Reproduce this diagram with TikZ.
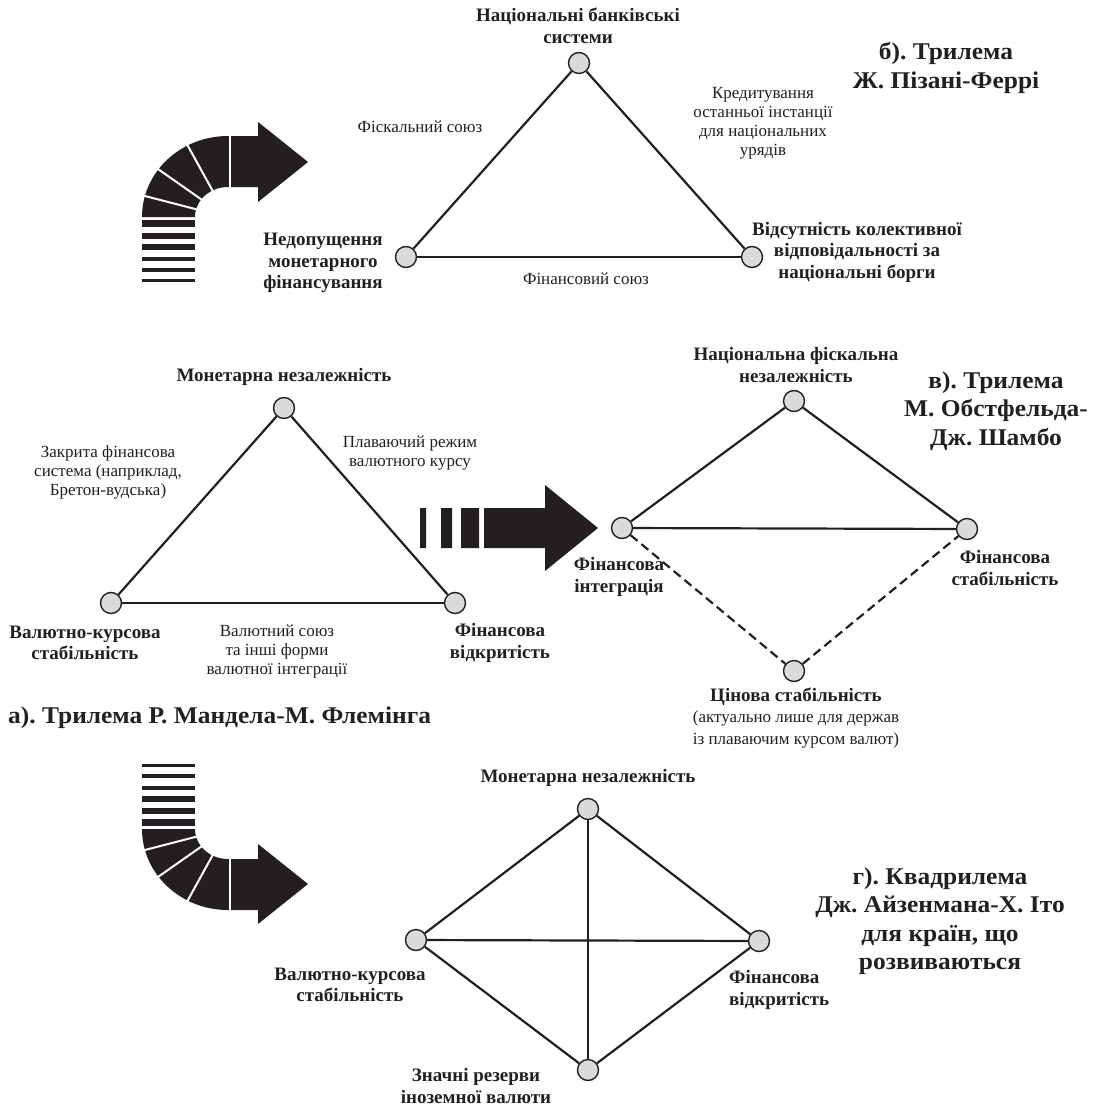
\documentclass[tikz,border=0pt]{standalone}
\usepackage{fontspec}
\setmainfont{Liberation Serif}
\newfontfamily\ttlfont[FakeStretch=1.06]{Liberation Serif}
\frenchspacing
\definecolor{ink}{HTML}{231F20}
\definecolor{knob}{HTML}{D9DADB}

% bent arrow, drawn round the centre of its bend
\newcommand{\bendarrow}{%
  \fill[ink] (-86,0) arc[start angle=180, end angle=270, x radius=86, y radius=81]
    -- (30,-81) -- (30,-95) -- (80,-55) -- (30,-15) -- (30,-30) -- (0,-30)
    arc[start angle=270, end angle=180, x radius=33, y radius=30] -- cycle;
  \foreach \a in {195,216,242}
    \draw[white, line width=2pt] (\a:31 and 28) -- (\a:89 and 84);
  \draw[white, line width=2pt] (2,-28) -- (2,-84);
  \foreach \y/\w in {6.5/7,18.5/6,30/5.2,41.5/4,53/3.5,63.5/2.5}
    \fill[ink] (-86,\y-\w/2) rectangle (-33,\y+\w/2);
}

\begin{document}
\begin{tikzpicture}[x=1pt, y=-1pt,
	vert/.style={circle, draw=ink, fill=knob, line width=1.4pt, minimum size=21pt, inner sep=0pt},
	edge/.style={draw=ink, line width=2.2pt},
	lbl/.style={font=\fontsize{19}{21.5}\selectfont\bfseries, align=center, text=ink, inner sep=0pt},
	note/.style={font=\fontsize{17}{19}\selectfont, align=center, text=ink, inner sep=0pt},
	ttl/.style={font=\ttlfont\fontsize{24}{28.5}\selectfont\bfseries, align=center, text=ink, inner sep=0pt}]
	\useasboundingbox (0,0) rectangle (1099,1108);

	% arrows
	\begin{scope}[shift={(228,217)}] \bendarrow \end{scope}
	\begin{scope}[shift={(228,829)}, yscale=-1] \bendarrow \end{scope}
	\fill[ink] (420,508) rectangle (426,548) (441,508) rectangle (452,548) (461,508) rectangle (479,548);
	\fill[ink] (484,508) -- (545,508) -- (545,485) -- (598,528) -- (545,571) -- (545,548) -- (484,548) -- cycle;

	% b) Pisani-Ferry
	\node[vert] (bank)  at (579,63)  {};
	\node[vert] (nomon) at (406,257) {};
	\node[vert] (nocol) at (752,257) {};
	\draw[edge] (nomon) -- (bank);
	\draw[edge] (bank) -- (nocol);
	\draw[edge] (nomon) -- (nocol);
	\node[lbl] (bank-t)  at (578,26)  {Національні банківські\\системи};
	\node[lbl] (nomon-t) at (323,263) {Недопущення\\монетарного\\фінансування};
	\node[lbl] (nocol-t) at (857,252) {Відсутність колективної\\відповідальності за\\національні борги};
	\node[note] (fisc) at (420,127)   {Фіскальний союз};
	\node[note] (lolr) at (763,123.5) {Кредитування\\останньої інстанції\\для національних\\урядів};
	\node[note] (finu) at (586,279)   {Фінансовий союз};
	\node[ttl] (ttl-b) at (946,68) {б). Трилема\\Ж. Пізані-Феррі};

	% a) Mundell-Fleming
	\node[vert] (mona) at (284,408) {};
	\node[vert] (kura) at (111,603) {};
	\node[vert] (fina) at (455,603) {};
	\draw[edge] (kura) -- (mona);
	\draw[edge] (mona) -- (fina);
	\draw[edge] (kura) -- (fina);
	\node[lbl] (mona-t) at (284,377) {Монетарна незалежність};
	\node[lbl] (kura-t) at (85,643)  {Валютно-курсова\\стабільність};
	\node[lbl] (fina-t) at (500,643) {Фінансова\\відкритість};
	\node[note] (closed) at (108,472) {Закрита фінансова\\система (наприклад,\\Бретон-вудська)};
	\node[note] (float)  at (410,453) {Плаваючий режим\\валютного курсу};
	\node[note] (union)  at (277,651) {Валютний союз\\та інші форми\\валютної інтеграції};
	\node[ttl, anchor=west] (ttl-a) at (8,718) {а). Трилема Р. Мандела-М. Флемінга};

	% v) Obstfeld-Shambaugh
	\node[vert] (fisv) at (794,401) {};
	\node[vert] (intv) at (622,528) {};
	\node[vert] (stav) at (967,529) {};
	\node[vert] (prcv) at (794,671) {};
	\draw[edge] (intv) -- (fisv);
	\draw[edge] (fisv) -- (stav);
	\draw[edge] (intv) -- (stav);
	\draw[edge, dash pattern=on 9pt off 5pt] (intv) -- (prcv);
	\draw[edge, dash pattern=on 9pt off 5pt] (prcv) -- (stav);
	\node[lbl] (fisv-t) at (796,365)  {Національна фіскальна\\незалежність};
	\node[lbl] (intv-t) at (619,577)  {Фінансова\\інтеграція};
	\node[lbl] (stav-t) at (1005,568) {Фінансова\\стабільність};
	\node[note, font=\fontsize{17}{21.5}\selectfont] (prcv-t) at (796,718)
		{{\bfseries\fontsize{19}{21.5}\selectfont Цінова стабільність}\\(актуально лише для держав\\із плаваючим курсом валют)};
	\node[ttl] (ttl-v) at (996,411) {в). Трилема\\М. Обстфельда-\\Дж. Шамбо};

	% g) Aizenman-Ito
	\node[vert] (mong) at (588,809)  {};
	\node[vert] (kurg) at (416,940)  {};
	\node[vert] (fing) at (759,941)  {};
	\node[vert] (resg) at (588,1070) {};
	\draw[edge] (kurg) -- (mong);
	\draw[edge] (mong) -- (fing);
	\draw[edge] (kurg) -- (resg);
	\draw[edge] (resg) -- (fing);
	\draw[edge] (kurg) -- (fing);
	\draw[edge] (mong) -- (resg);
	\node[lbl] (mong-t) at (588,778)  {Монетарна незалежність};
	\node[lbl] (kurg-t) at (350,985)  {Валютно-курсова\\стабільність};
	\node[lbl, align=left, anchor=west] (fing-t) at (729,990) {Фінансова\\відкритість};
	\node[lbl] (resg-t) at (476,1086) {Значні резерви\\іноземної валюти};
	\node[ttl] (ttl-g) at (940,921) {г). Квадрилема\\Дж. Айзенмана-Х. Іто\\для країн, що\\розвиваються};
\end{tikzpicture}
\end{document}
